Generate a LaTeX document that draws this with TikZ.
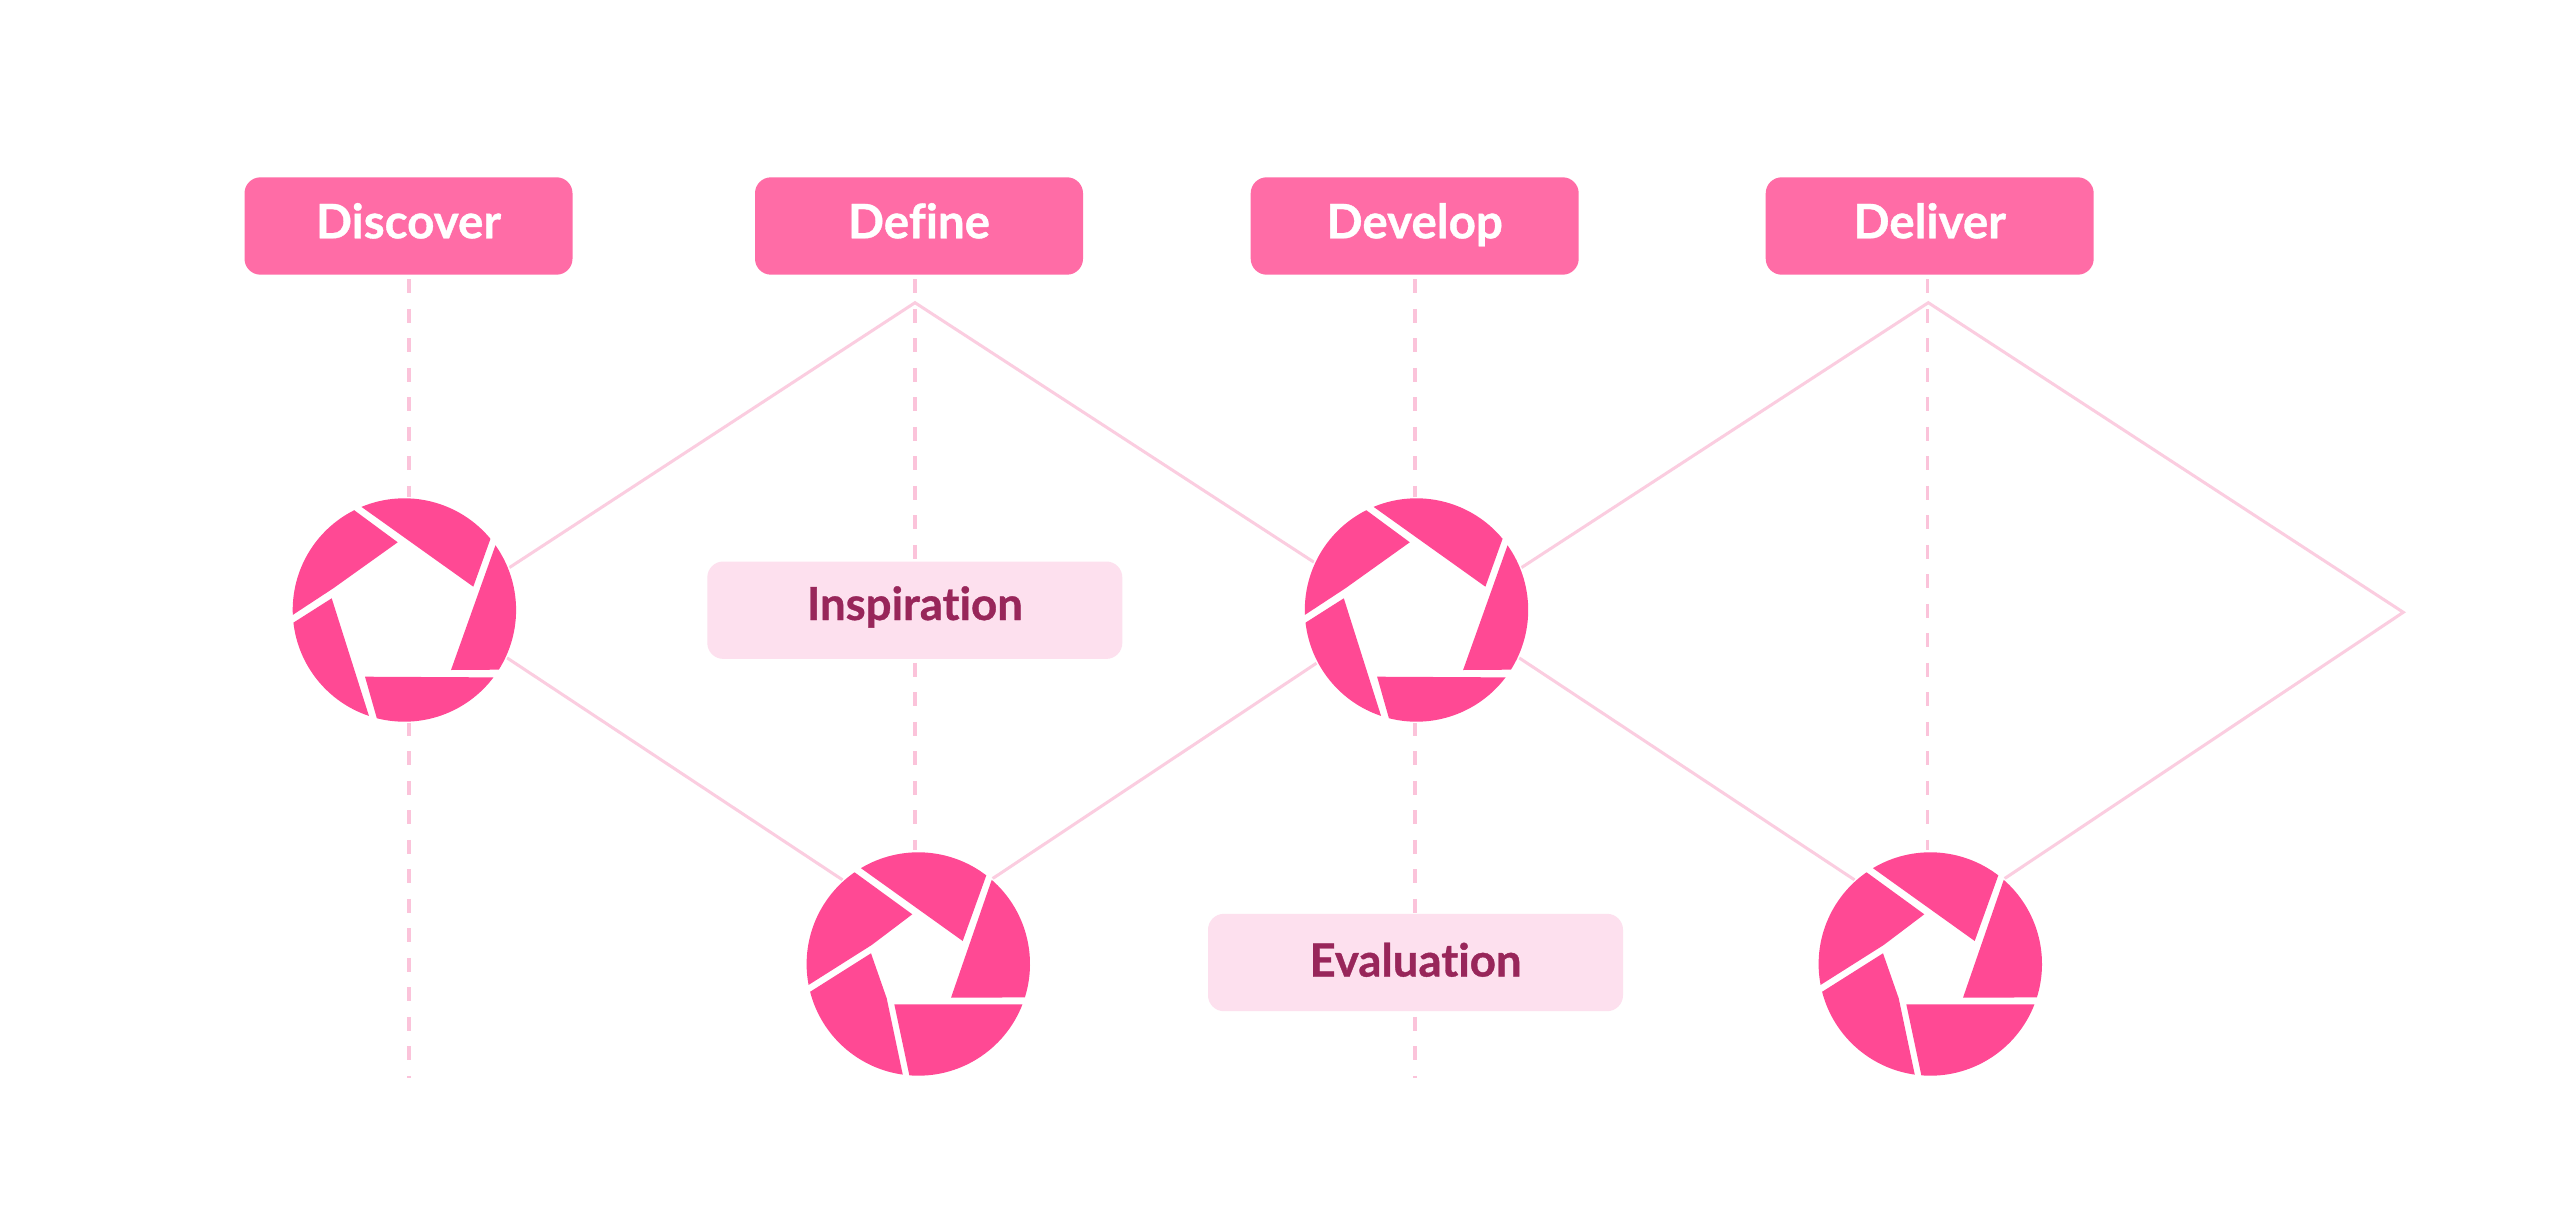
\documentclass[tikz,border=0pt]{standalone}
\usepackage{fontspec}
\setmainfont{Lato}[Ligatures=CommonOff,BoldFeatures={FakeBold=0.8}]
\usetikzlibrary{backgrounds}
\definecolor{boxpink}{RGB}{255,108,166}
\definecolor{bladepink}{RGB}{255,73,148}
\definecolor{softpink}{RGB}{253,224,238}
\definecolor{darkrose}{RGB}{152,38,90}
\definecolor{linepink}{RGB}{251,205,224}
\definecolor{dashpink}{RGB}{251,195,218}
\newcommand{\irisR}{111.7}
\tikzset{
  labelbox/.style={rectangle,rounded corners=16pt,inner sep=0pt,minimum height=97.4pt,
    font=\fontsize{45.5}{50}\selectfont\bfseries,text height={20pt+#1},text depth={20pt-#1}},
  stagebox/.style={labelbox=12.3pt,minimum width=328pt,fill=boxpink,text=white,
    font=\fontsize{47.5}{50}\selectfont\bfseries},
  notebox/.style={labelbox=#1,minimum width=415pt,fill=softpink,text=darkrose},
  irisnode/.style={circle,fill=white,inner sep=0pt,minimum size=226pt},
  blade/.style={fill=bladepink},
  pathline/.style={draw=linepink,line width=3pt,line join=miter},
  guide/.style={draw=dashpink,line width=3.2pt,dash pattern=on 14pt off 15.5pt},
}
\newcommand{\slice}[3]{% start angle, end angle, inner vertices path
  \fill[blade] (#1:\irisR) arc[start angle=#1,end angle=#2,radius=\irisR] #3 -- cycle;}
\newcommand{\bladesWide}[2]{\begin{scope}[shift={(#1,#2)}]
  \slice{39.6}{112.6}{-- (68.9,23.3)}
  \slice{-32.3}{35.4}{-- (46.6,-60)}
  \slice{-104.3}{-37.1}{-- (-39.4,-66.7)}
  \slice{186.5}{251.5}{-- (-72.7,11.7)}
  \slice{116.7}{182.5}{-- (-71.1,21.7) -- (-6.7,67.7)}
\end{scope}}
\newcommand{\bladesNarrow}[2]{\begin{scope}[shift={(#1,#2)}]
  \slice{52.5}{120.9}{-- (44.4,23)}
  \slice{-17.4}{48.9}{-- (32.7,-33.7)}
  \slice{-94.6}{-21.2}{-- (-24,-40.3)}
  \slice{194.4}{262}{-- (-31.6,-34.3) -- (-47.3,10.7)}
  \slice{124.8}{190.8}{-- (-46.6,19) -- (-6,49.7)}
\end{scope}}
\begin{document}
\begin{tikzpicture}[x=1pt,y=1pt]
\useasboundingbox (0,-1225) rectangle (2560,0);
% stage boxes
\node[stagebox] (discover) at (408.5,-226) {Discover};
\node[stagebox] (define) at (919,-226) {Define};
\node[stagebox] (develop) at (1414.7,-226) {Develop};
\node[stagebox] (deliver) at (1929.7,-226) {Deliver};
% iris nodes
\node[irisnode] (irisA) at (404.4,-610) {};
\node[irisnode] (irisB) at (918.3,-964) {};
\node[irisnode] (irisC) at (1416.5,-610) {};
\node[irisnode] (irisD) at (1930.3,-964) {};
\bladesWide{404.4}{-610}
\bladesNarrow{918.3}{-964}
\bladesWide{1416.5}{-610}
\bladesNarrow{1930.3}{-964}
% note boxes
\node[notebox=9.8pt] (inspiration) at (914.8,-610.2) {Inspiration};
\node[notebox=14pt] (evaluation) at (1415.5,-962.5) {Evaluation};
% free ends
\coordinate (apexA) at (915,-302.7);
\coordinate (apexB) at (1928.3,-302.7);
\coordinate (tip) at (2403.3,-612.3);
\coordinate (guideAtop) at (409,-279.3);
\coordinate (guideAend) at (409,-1078);
\coordinate (guideBtop) at (915,-279.3);
\coordinate (guideBend) at (915,-850);
\coordinate (guideCtop) at (1415,-279.3);
\coordinate (guideCend) at (1415,-1078);
\coordinate (guideDtop) at (1927.3,-279.3);
\coordinate (guideDend) at (1927.3,-850);
\begin{scope}[on background layer]
  \fill[white] (0,-1225) rectangle (2560,0);
  \draw[guide] (guideAtop) -- (guideAend);
  \draw[guide] (guideBtop) -- (guideBend);
  \draw[guide] (guideCtop) -- (guideCend);
  \draw[guide] (guideDtop) -- (guideDend);
  \draw[pathline] (irisA.22) -- (apexA) -- (irisC.155);
  \draw[pathline] (irisA.-25) -- (irisB.132);
  \draw[pathline] (irisB.49) -- (irisC.208);
  \draw[pathline] (irisC.22) -- (apexB) -- (tip) -- (irisD.49);
  \draw[pathline] (irisC.-25) -- (irisD.132);
\end{scope}
\end{tikzpicture}
\end{document}
